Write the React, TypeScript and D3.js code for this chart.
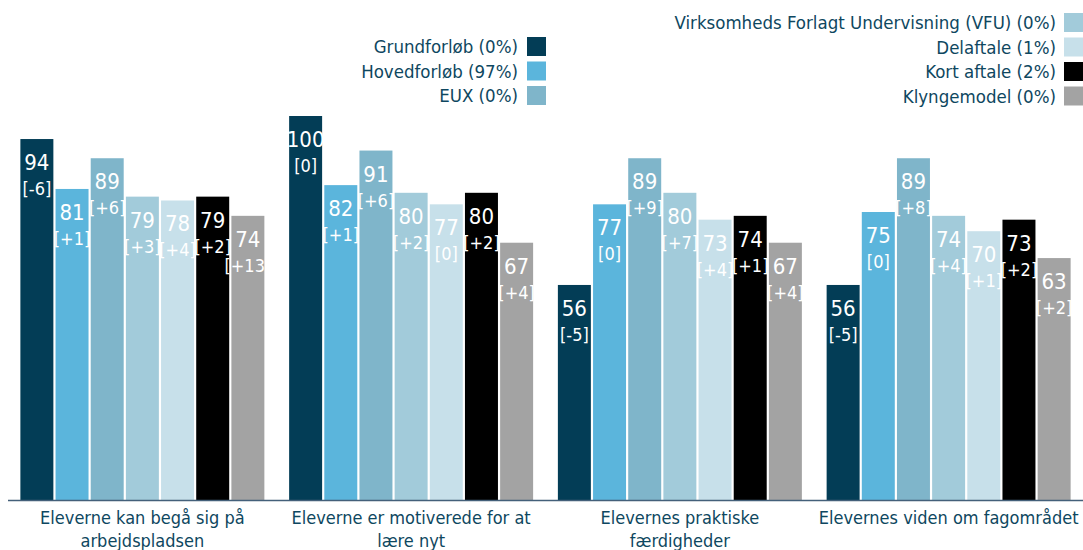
import React from "react";
import * as d3 from "d3";

const categories = [
  ["Eleverne kan begå sig på", "arbejdspladsen"],
  ["Eleverne er motiverede for at", "lære nyt"],
  ["Elevernes praktiske", "færdigheder"],
  ["Elevernes viden om fagområdet"],
];
const seriesNames = [
  "Grundforløb (0%)",
  "Hovedforløb (97%)",
  "EUX (0%)",
  "Virksomheds Forlagt Undervisning (VFU) (0%)",
  "Delaftale (1%)",
  "Kort aftale (2%)",
  "Klyngemodel (0%)",
];
const colors = ["#033d56", "#5bb5dc", "#7fb5ca", "#a2cbda", "#c7e0ea", "#000000", "#a3a3a3"];
// values[series][category]
const values = [
  [94, 100, 56, 56],
  [81, 82, 77, 75],
  [89, 91, 89, 89],
  [79, 80, 80, 74],
  [78, 77, 73, 70],
  [79, 80, 74, 73],
  [74, 67, 67, 63],
];
const changes = [
  ["-6", "0", "-5", "-5"],
  ["+1", "+1", "0", "0"],
  ["+6", "+6", "+9", "+8"],
  ["+3", "+2", "+7", "+4"],
  ["+4", "0", "+4", "+1"],
  ["+2", "+2", "+1", "+2"],
  ["+13", "+4", "+4", "+2"],
];

const W = 1083;
const H = 550;
const FONT = "'DejaVu Sans Condensed', 'DejaVu Sans', sans-serif";
const TEXT = "#0e4760";

export default function App() {
  const x0 = d3.scaleBand<number>().domain(d3.range(categories.length)).range([8, W]).paddingInner(0).paddingOuter(0);
  const x1 = d3.scaleBand<number>().domain(d3.range(seriesNames.length)).range([0, x0.bandwidth()]).paddingInner(0.062).paddingOuter(0.352);
  const y = d3.scaleLinear().domain([0, 100]).range([500, 116]);

  const leftLegend = [0, 1, 2];
  const rightLegend = [3, 4, 5, 6];

  return (
    <svg width={W} height={H} style={{ position: "absolute", left: 0, top: 0 }} fontFamily={FONT}>
      {values.map((ser, si) =>
        ser.map((v, ci) => {
          const bx = x0(ci)! + x1(si)!;
          const bw = x1.bandwidth();
          const top = y(v);
          const cx = bx + bw / 2;
          return (
            <g key={`${si}-${ci}`}>
              <rect x={bx} y={top} width={bw} height={y(0) - top} fill={colors[si]} />
              <text x={cx} y={top + 31} textAnchor="middle" fontSize={22} fill="#fff">{v}</text>
              <text x={cx} y={top + 56} textAnchor="middle" fontSize={18} fill="#fff">[{changes[si][ci]}]</text>
            </g>
          );
        })
      )}
      <line x1={8} x2={W} y1={500.5} y2={500.5} stroke="#44607a" strokeWidth={1.5} />
      {categories.map((lines, ci) => (
        <text key={ci} textAnchor="middle" fontSize={18} fill={TEXT}>
          {lines.map((l, li) => (
            <tspan key={li} x={x0(ci)! + x0.bandwidth() / 2} y={524 + li * 23}>{l}</tspan>
          ))}
        </text>
      ))}
      {leftLegend.map((si, i) => (
        <g key={si}>
          <rect x={527} y={37 + i * 24.5} width={19} height={19} fill={colors[si]} />
          <text x={518} y={53 + i * 24.5} textAnchor="end" fontSize={18.5} fill={TEXT}>{seriesNames[si]}</text>
        </g>
      ))}
      {rightLegend.map((si, i) => (
        <g key={si}>
          <rect x={1064} y={13 + i * 24.5} width={19} height={19} fill={colors[si]} />
          <text x={1056} y={29 + i * 24.5} textAnchor="end" fontSize={18.5} fill={TEXT}>{seriesNames[si]}</text>
        </g>
      ))}
    </svg>
  );
}
